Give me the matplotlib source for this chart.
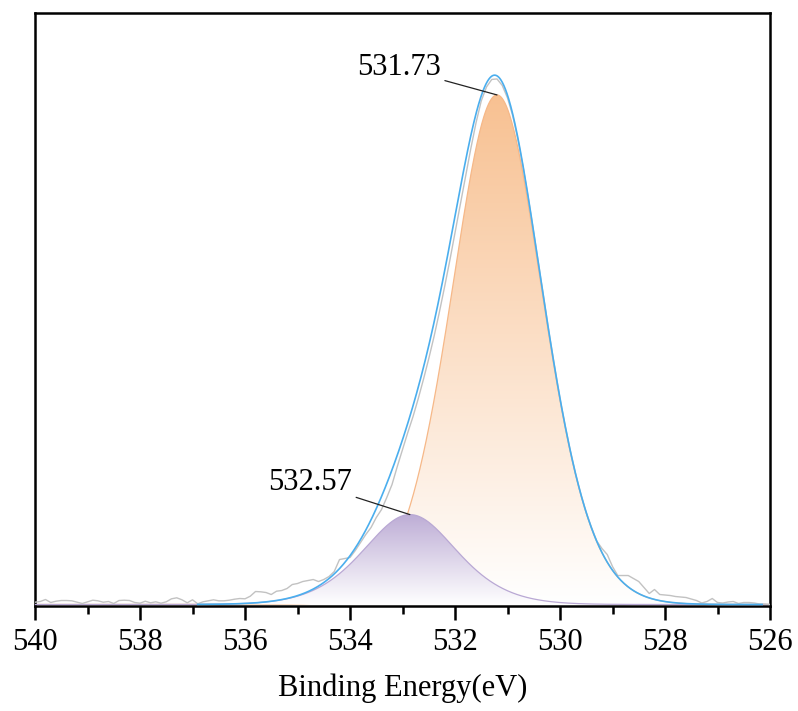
import numpy as np
import matplotlib
matplotlib.use('Agg')
import matplotlib.pyplot as plt
import matplotlib.colors as mcolors
from matplotlib.ticker import MultipleLocator

plt.rcParams['font.family'] = ['Liberation Serif', 'DejaVu Serif']

# raw spectrum, 540.0 -> 526.0 eV in 0.1 eV steps (intensity, a.u.)
energy = np.round(np.arange(540.0, 525.95, -0.1), 1)
raw_counts = [
    2.3, 3.0, 5.0, 2.0, 3.3, 4.0, 4.0, 3.7, 2.3, 1.0,
    2.7, 4.3, 3.7, 2.3, 3.0, 1.0, 4.0, 4.3, 4.0, 2.0,
    1.3, 3.3, 1.7, 2.7, 1.3, 2.7, 5.7, 6.7, 4.7, 1.7,
    4.7, 0.7, 2.7, 3.7, 4.7, 3.7, 3.7, 4.3, 5.3, 6.0,
    5.7, 8.3, 13.0, 12.7, 12.0, 10.0, 13.3, 14.0, 16, 20,
    21, 23, 24, 25, 23, 25, 28, 33, 45, 46,
    47, 54, 62, 70, 77, 87, 95, 107, 120, 138,
    155, 172, 188, 206, 225.5, 246, 268, 292, 317.5, 344,
    372, 400, 427.5, 456, 482, 504, 518, 525.5, 526, 519.5,
    507, 489, 465, 437, 405.5, 372, 337.5, 303, 269, 237,
    206, 178.5, 153, 130, 110, 92, 77, 63.5, 56, 50,
    38, 29, 29, 29, 26, 23, 17, 11, 15, 10,
    9.5, 9, 8, 7.5, 7, 5.5, 4, 1.5, 3, 6,
    2, 1.5, 2.5, 3, 1, 2, 2, 1.5, 0.5, 0.5,
    0,
]

# fitted components (GL product line shape)
peak_centers = [531.20, 532.86]
peak_heights = [510, 90]
peak_hwhm = [1.08, 1.10]
peak_lfrac = [0.4, 0.5]
peak_labels = ['531.73', '532.57']
peak_colors = ['#F8C192', '#BEAED6']
peak_edges = ['#F6B888', '#B9A8D4']
envelope_range = (536.9, 526.15)


def gl_peak(x, center, height, hwhm, lfrac):
    u2 = ((x - center) / hwhm) ** 2
    return height * np.exp(-np.log(2) * (1 - lfrac) * u2) / (1 + lfrac * u2)


def gradient_fill(ax, x, y, color, zorder):
    poly = ax.fill_between(x, 0, y, facecolor='none', lw=0, zorder=zorder)
    path = poly.get_paths()[0]
    top = np.array(mcolors.to_rgb(color))
    t = np.linspace(0, 1, 256)[:, None]
    grad = (1 - t) * np.ones(3) + t * top
    grad = grad[:, None, :]
    im = ax.imshow(grad, extent=[x.min(), x.max(), 0, y.max()], origin='lower',
                   aspect='auto', interpolation='bilinear', zorder=zorder)
    im.set_clip_path(path, transform=ax.transData)


def main():
    fig = plt.figure(figsize=(7.98, 7.11), dpi=100)
    ax = fig.add_axes([35 / 798, 1 - 606 / 711, 735 / 798, 593 / 711])

    xs = np.linspace(540, 526, 1401)
    comps = [gl_peak(xs, c, h, w, m) for c, h, w, m in
             zip(peak_centers, peak_heights, peak_hwhm, peak_lfrac)]

    for i, (yc, col, ec) in enumerate(zip(comps, peak_colors, peak_edges)):
        z = 2 + i * 2
        gradient_fill(ax, xs, yc, col, z)
        ax.plot(xs, yc, color=ec, lw=0.9, zorder=z + 0.5)

    ax.plot(energy, raw_counts, color='#C2C2C2', lw=1.0, zorder=7)

    env = comps[0] + comps[1]
    sel = (xs <= envelope_range[0]) & (xs >= envelope_range[1])
    ax.plot(xs[sel], env[sel], color='#4AAEEE', lw=1.2, zorder=8)

    # peak labels
    label_pos = [(533.07, 537), (534.76, 122)]
    for c, h, lab, pos in zip(peak_centers, peak_heights, peak_labels, label_pos):
        ax.annotate(lab, xy=(c, h), xytext=pos, ha='center', va='center',
                    fontsize=22,
                    arrowprops=dict(arrowstyle='-', color='#222222', lw=0.9,
                                    shrinkA=1, shrinkB=0),
                    zorder=10)

    ax.set_xlim(540, 526)
    ax.set_ylim(-1.5, 592)
    ax.xaxis.set_major_locator(MultipleLocator(2))
    ax.xaxis.set_minor_locator(MultipleLocator(1))
    ax.set_yticks([])
    ax.tick_params(axis='x', which='major', direction='out', length=10, width=1.8,
                   labelsize=22, pad=6, top=False)
    ax.tick_params(axis='x', which='minor', direction='out', length=6, width=1.8,
                   top=False)
    for sp in ax.spines.values():
        sp.set_linewidth(1.8)
    ax.set_xlabel('Binding Energy(eV)', fontsize=22, labelpad=12)

    fig.savefig('out.png', dpi=100)


if __name__ == '__main__':
    main()
